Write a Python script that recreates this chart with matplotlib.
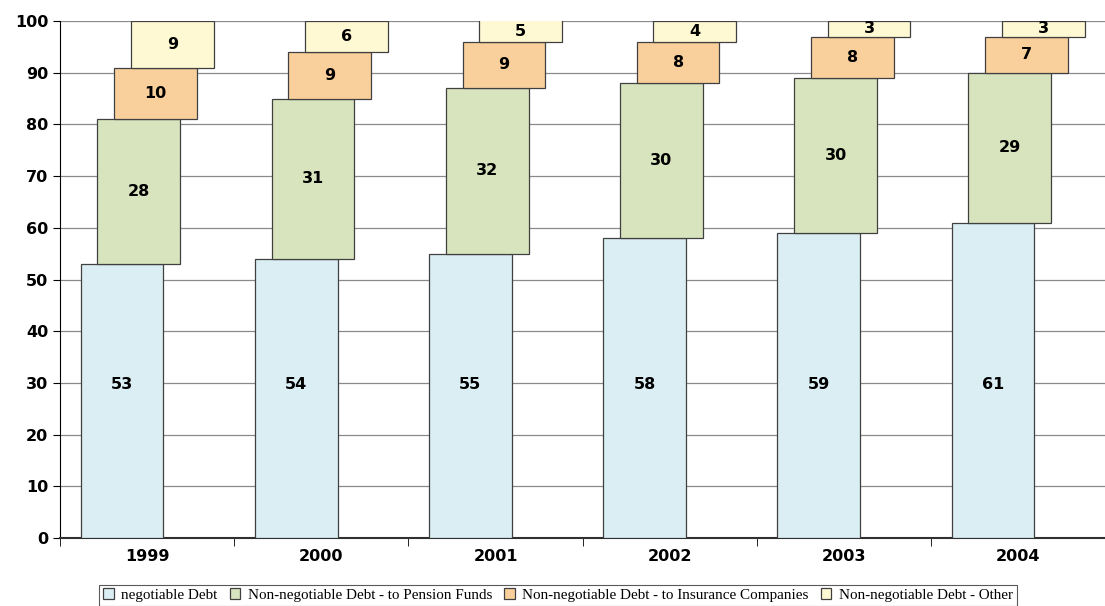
import matplotlib.pyplot as plt
import numpy as np

years = ['1999', '2000', '2001', '2002', '2003', '2004']
negotiable = [53, 54, 55, 58, 59, 61]
pension = [28, 31, 32, 30, 30, 29]
insurance = [10, 9, 9, 8, 8, 7]
other = [9, 6, 5, 4, 3, 3]

series = [
    ('negotiable Debt', negotiable, '#DAEEF3'),
    ('Non-negotiable Debt - to Pension Funds', pension, '#D7E4BD'),
    ('Non-negotiable Debt - to Insurance Companies', insurance, '#F9CF9C'),
    ('Non-negotiable Debt - Other', other, '#FEF9D3'),
]

fig = plt.figure(figsize=(11.05, 6.06), dpi=100)
ax = fig.add_axes([0.0543, 0.1122, 0.9475, 0.8531])

x = np.arange(len(years))
width = 0.475
offsets = [-0.144, -0.048, 0.048, 0.144]
bottom = np.zeros(len(years))
handles = []
for k, ((name, vals, col), off) in enumerate(zip(series, offsets)):
    vals = np.array(vals, dtype=float)
    h = ax.bar(x + off, vals, width, bottom=bottom, color=col, edgecolor='#404040',
               linewidth=0.9, label=name, zorder=3)
    handles.append(h)
    for xi, b, v in zip(x + off, bottom, vals):
        top = min(b + v, 100)
        ypos = 29.6 if k == 0 else (b + top) / 2
        ax.text(xi, ypos, f'{int(v)}', ha='center', va='center',
                fontsize=11.5, fontweight='bold', zorder=4)
    bottom += vals

ax.set_ylim(0, 100)
ax.set_xlim(-0.5, len(years) - 0.49)
ax.set_yticks(range(0, 101, 10))
ax.yaxis.grid(True, color='#8a8a8a', linewidth=0.9)
ax.set_axisbelow(True)
for s in ['top', 'right']:
    ax.spines[s].set_visible(False)
ax.spines['left'].set_color('black')
ax.spines['bottom'].set_color('#303030')
ax.spines['bottom'].set_linewidth(1.5)

ax.set_xticks(x)
ax.set_xticklabels(years, fontsize=11.5, fontweight='bold')
ax.tick_params(axis='x', length=0, pad=8)
ax.set_xticks(np.arange(-0.5, len(years)), minor=True)
ax.tick_params(axis='x', which='minor', length=6, direction='out')
ax.tick_params(axis='y', length=5, labelsize=11.5)
for t in ax.get_yticklabels():
    t.set_fontweight('bold')

leg = fig.legend(handles=handles, loc='lower center', bbox_to_anchor=(0.505, -0.012), ncol=4,
                 frameon=True, fancybox=False, edgecolor='#303030',
                 prop={'family': 'Liberation Serif', 'size': 10.9},
                 handlelength=0.7, handleheight=0.7, handletextpad=0.5, columnspacing=0.8,
                 borderpad=0.25)
leg.get_frame().set_linewidth(0.8)

fig.savefig('out.png', dpi=100)
